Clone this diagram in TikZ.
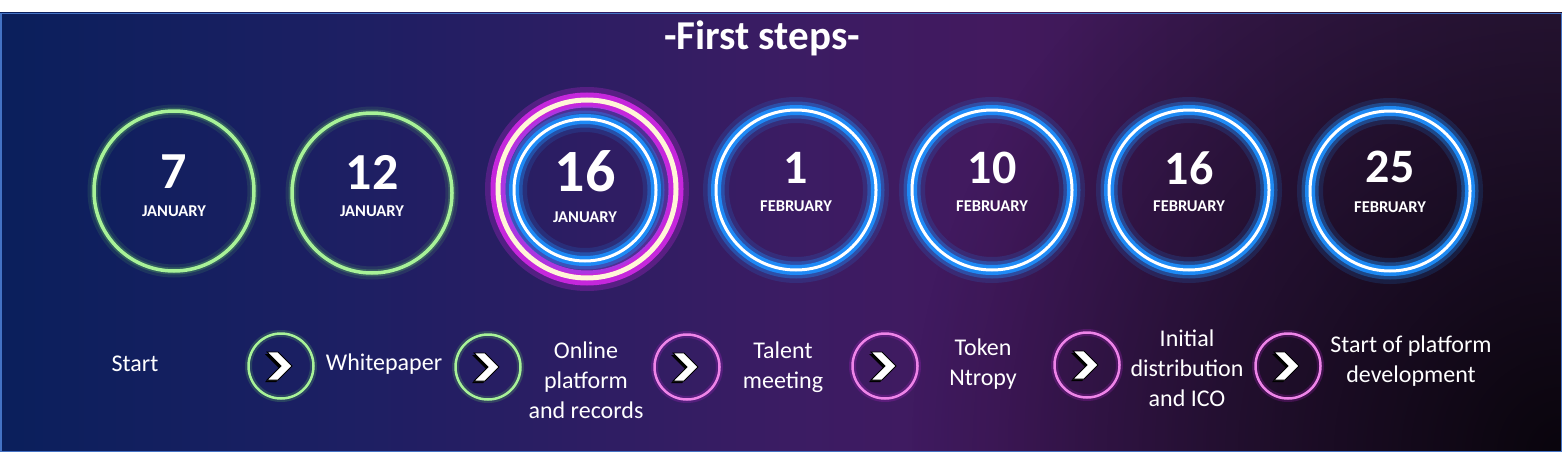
\documentclass[tikz,border=0pt]{standalone}
\usepackage{fontspec}
\setmainfont{Carlito}
\usetikzlibrary{positioning,calc,fadings}

\definecolor{ringgreen}{RGB}{168,242,152}
\definecolor{glowgreen}{RGB}{110,220,100}
\definecolor{glowblue}{RGB}{30,145,255}
\definecolor{glowpink}{RGB}{210,40,230}
\definecolor{ringpink}{RGB}{238,132,232}
\definecolor{cream}{RGB}{255,246,215}
\definecolor{frameblue}{RGB}{68,114,196}

\pgfdeclarehorizontalshading{bgshade}{100bp}{rgb(0bp)=(0.04,0.12,0.36); rgb(25bp)=(0.04,0.12,0.36); rgb(37bp)=(0.12,0.12,0.39); rgb(50bp)=(0.23,0.11,0.39); rgb(57bp)=(0.26,0.10,0.37); rgb(65bp)=(0.22,0.10,0.30); rgb(75bp)=(0.19,0.10,0.25); rgb(100bp)=(0.19,0.10,0.25)}
\tikzfading[name=cornerfade, inner color=transparent!20, outer color=transparent!100]

\tikzset{
  chevron/.pic={
    \fill[black] (-16,-12) -- (-5,-12) -- (9,2) -- (-5,16) -- (-16,16) -- (-2,2) -- cycle;
    \fill[white, draw=black, line width=0.8pt] (-14,-14) -- (-3,-14) -- (11,0) -- (-3,14) -- (-14,14) -- (0,0) -- cycle;
  }
}

\begin{document}
\begin{tikzpicture}[x=1pt, y=-1pt,
    greenring/.style={circle, inner sep=0, minimum size=160pt, draw=ringgreen, line width=3.5pt,
      preaction={draw=glowgreen, line width=13pt, draw opacity=0.12},
      preaction={draw=glowgreen, line width=7pt, draw opacity=0.25}},
    bluering/.style={circle, inner sep=0, minimum size=160pt, draw=white, line width=3pt,
      preaction={draw=glowblue, line width=26pt, draw opacity=0.15},
      preaction={draw=glowblue, line width=17pt, draw opacity=0.35},
      preaction={draw=glowblue, line width=10pt, draw opacity=0.9}},
    pinkring/.style={circle, inner sep=0, minimum size=178pt, draw=cream, line width=5pt,
      preaction={draw=glowpink, line width=26pt, draw opacity=0.25},
      preaction={draw=glowpink, line width=15pt, draw opacity=0.9}},
    stepgreen/.style={circle, inner sep=0, minimum size=65pt, draw=ringgreen, line width=2.5pt,
      preaction={draw=glowgreen, line width=7pt, draw opacity=0.2}},
    steppink/.style={circle, inner sep=0, minimum size=65pt, draw=ringpink, line width=2.5pt,
      preaction={draw=glowpink, line width=7pt, draw opacity=0.2}},
    daynum/.style={text=white, inner sep=0, font=\bfseries\fontsize{52}{52}\selectfont},
    daymon/.style={text=white, inner sep=0, font=\bfseries\fontsize{16.5}{16.5}\selectfont},
    steptext/.style={text=white, inner sep=0, align=center, font=\fontsize{24}{30}\selectfont}]

  \useasboundingbox (0,0) rectangle (1562,452);

  %background
  \shade[shading=bgshade] (0,13) rectangle (1562,452);
  \begin{scope}
    \clip (0,13) rectangle (1562,452);
    \fill[black, path fading=cornerfade] (1562,452) circle (650);
  \end{scope}
  \draw[frameblue, line width=1.5pt] (0.75,13.75) rectangle (1561.25,451.25);

  %title
  \node[text=white, inner sep=0, anchor=base, font=\bfseries\fontsize{41}{41}\selectfont] (title) at (762,50) {-First steps-};

  %january
  \node[greenring] (day1) at (174,191) {};
  \node[daynum] (num1) at ($(day1)+(0,-19)$) {7};
  \node[daymon] (mon1) at ($(day1)+(0,20)$) {JANUARY};

  \node[greenring] (day2) at (372,193) {};
  \node[daynum] (num2) at ($(day2)+(0,-21)$) {12};
  \node[daymon] (mon2) at ($(day2)+(0,18)$) {JANUARY};

  \node[pinkring] (day3o) at (587,189) {};
  \node[bluering, minimum size=142pt] (day3) at (585,190) {};
  \node[daynum, font=\bfseries\fontsize{60}{60}\selectfont] (num3) at ($(day3)+(0,-19)$) {16};
  \node[daymon] (mon3) at ($(day3)+(0,27)$) {JANUARY};

  %february
  \node[bluering] (day4) at (796,190) {};
  \node[daynum, font=\bfseries\fontsize{48}{48}\selectfont] (num4) at ($(day4)+(0,-22)$) {1};
  \node[daymon] (mon4) at ($(day4)+(0,16)$) {FEBRUARY};

  \node[bluering] (day5) at (992,190) {};
  \node[daynum, font=\bfseries\fontsize{48}{48}\selectfont] (num5) at ($(day5)+(0,-22)$) {10};
  \node[daymon] (mon5) at ($(day5)+(0,16)$) {FEBRUARY};

  \node[bluering] (day6) at (1189,190) {};
  \node[daynum, font=\bfseries\fontsize{48}{48}\selectfont] (num6) at ($(day6)+(0,-22)$) {16};
  \node[daymon] (mon6) at ($(day6)+(0,16)$) {FEBRUARY};

  \node[bluering] (day7) at (1390,191) {};
  \node[daynum, font=\bfseries\fontsize{48}{48}\selectfont] (num7) at ($(day7)+(0,-24)$) {25};
  \node[daymon] (mon7) at ($(day7)+(0,16)$) {FEBRUARY};

  %steps
  \node[stepgreen] (step1) at (281,366) {};
  \node[stepgreen] (step2) at (488,367) {};
  \node[steppink] (step3) at (687,367) {};
  \node[steppink] (step4) at (885,366) {};
  \node[steppink] (step5) at (1087,365) {};
  \node[steppink] (step6) at (1288,366) {};
  \foreach \i in {1,...,6}
    \pic at (step\i) {chevron};

  \node[steptext] (lab0) at (135,364) {Start};
  \node[steptext] (lab1) at (384,364) {Whitepaper};
  \node[steptext] (lab2) at (586,380) {Online\\platform\\and records};
  \node[steptext] (lab3) at (783,367) {Talent\\meeting};
  \node[steptext] (lab4) at (983,364) {Token\\Ntropy};
  \node[steptext] (lab5) at (1187,368) {Initial\\distribution\\and ICO};
  \node[steptext] (lab6) at (1411,361) {Start of platform\\development};

\end{tikzpicture}
\end{document}
